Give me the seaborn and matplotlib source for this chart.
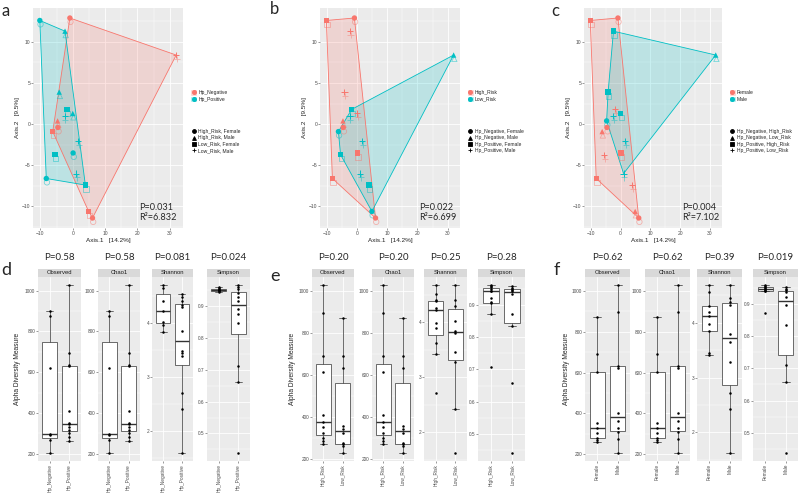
import numpy as np
import pandas as pd
import matplotlib
matplotlib.use("Agg")
import matplotlib.pyplot as plt
import matplotlib.transforms as mtransforms
from matplotlib.lines import Line2D
from matplotlib.patches import Patch, Rectangle
from matplotlib.ticker import MultipleLocator
import seaborn as sns

# ---------------- PCoA ordination (shared by panels a-c) ----------------
axis1 = [-10.2, -0.9, -2.4, 32.0, -4.2, -1.8, 0.0, -4.7, -4.6, -6.2,
         1.6, -5.5, 0.1, 1.0, -8.2, 3.9, 4.9, 6.1, -2.5]
axis2 = [12.6, 12.9, 11.3, 8.4, 3.9, 1.8, 1.3, 0.4, -0.4, -0.9,
         -2.0, -3.7, -3.5, -6.0, -6.6, -7.4, -10.6, -11.4, 1.0]
hp_status = ["Hp_Positive", "Hp_Negative", "Hp_Positive", "Hp_Negative", "Hp_Positive",
             "Hp_Positive", "Hp_Positive", "Hp_Negative", "Hp_Negative", "Hp_Negative",
             "Hp_Positive", "Hp_Positive", "Hp_Positive", "Hp_Positive", "Hp_Positive",
             "Hp_Positive", "Hp_Negative", "Hp_Negative", "Hp_Positive"]
risk_group = ["High_Risk", "High_Risk", "High_Risk", "Low_Risk", "High_Risk",
              "Low_Risk", "High_Risk", "High_Risk", "High_Risk", "Low_Risk",
              "Low_Risk", "Low_Risk", "High_Risk", "Low_Risk", "High_Risk",
              "Low_Risk", "Low_Risk", "High_Risk", "Low_Risk"]
sex_group = ["Female", "Female", "Male", "Male", "Male", "Female", "Male", "Male",
             "Female", "Female", "Male", "Female", "Female", "Male", "Female",
             "Female", "Female", "Female", "Male"]
axis1_label = "Axis.1   [14.2%]"
axis2_label = "Axis.2   [9.5%]"
pcoa_stats = ["P=0.031\nR\u00b2=6.832", "P=0.022\nR\u00b2=6.699", "P=0.004\nR\u00b2=7.102"]

# ---------------- Alpha diversity ----------------
measures = ["Observed", "Chao1", "Shannon", "Simpson"]

d_groups = ["Hp_Negative", "Hp_Positive"]
d_observed = [[900, 878, 618, 296, 290, 268, 205],
              [262, 282, 300, 318, 330, 345, 349, 411, 630, 634, 694, 1026]]
d_chao1 = [[900, 878, 618, 296, 290, 268, 205],
           [262, 282, 300, 318, 330, 345, 349, 411, 630, 634, 694, 1026]]
d_shannon = [[3.83, 3.97, 4.03, 4.22, 4.41, 4.66, 4.70],
             [1.60, 2.41, 2.71, 3.40, 3.45, 3.48, 3.85, 4.30, 4.34, 4.41, 4.49, 4.54]]
d_simpson = [[0.958, 0.955, 0.952, 0.950, 0.948, 0.945, 0.943],
             [0.44, 0.66, 0.71, 0.845, 0.875, 0.89, 0.915, 0.926, 0.94, 0.952, 0.958, 0.964]]
d_pvalues = ["P=0.58", "P=0.58", "P=0.081", "P=0.024"]

e_groups = ["High_Risk", "Low_Risk"]
e_observed = [[272, 284, 300, 324, 353, 376, 408, 613, 690, 896, 1028],
              [229, 260, 268, 275, 324, 340, 356, 631, 690, 872]]
e_chao1 = [[272, 284, 300, 324, 353, 376, 408, 613, 690, 896, 1028],
           [229, 260, 268, 275, 324, 340, 356, 631, 690, 872]]
e_shannon = [[2.72, 3.42, 3.63, 3.90, 3.98, 4.23, 4.25, 4.38, 4.40, 4.52, 4.67],
             [1.63, 2.42, 3.27, 3.46, 3.80, 3.84, 4.03, 4.30, 4.40, 4.67]]
e_simpson = [[0.709, 0.873, 0.905, 0.910, 0.921, 0.943, 0.945, 0.950, 0.955, 0.958, 0.961],
             [0.442, 0.658, 0.836, 0.873, 0.935, 0.945, 0.947, 0.950, 0.953, 0.958]]
e_pvalues = ["P=0.20", "P=0.20", "P=0.25", "P=0.28"]

f_groups = ["Female", "Male"]
f_observed = [[259, 268, 279, 305, 327, 355, 605, 692, 871],
              [208, 274, 310, 330, 365, 400, 624, 633, 898, 1027]]
f_chao1 = [[259, 268, 279, 305, 327, 355, 605, 692, 871],
           [208, 274, 310, 330, 365, 400, 624, 633, 898, 1027]]
f_shannon = [[3.41, 3.45, 3.84, 3.98, 4.12, 4.20, 4.30, 4.55, 4.68],
             [1.63, 2.42, 2.72, 3.28, 3.65, 3.80, 4.33, 4.38, 4.45, 4.68]]
f_simpson = [[0.871, 0.940, 0.942, 0.945, 0.948, 0.950, 0.953, 0.955, 0.958],
             [0.438, 0.659, 0.71, 0.835, 0.897, 0.921, 0.936, 0.943, 0.948, 0.953]]
f_pvalues = ["P=0.62", "P=0.62", "P=0.39", "P=0.019"]

# major tick step per measure
tick_steps = [200, 200, 1, 0.1]

# ---------------- style ----------------
sns.set_theme(style="darkgrid", rc={
    "axes.facecolor": "#EBEBEB", "grid.color": "white", "grid.linewidth": 0.6,
    "axes.edgecolor": "none", "xtick.color": "#4D4D4D", "ytick.color": "#4D4D4D",
    "xtick.major.size": 1.2, "ytick.major.size": 1.2,
    "xtick.major.width": 0.4, "ytick.major.width": 0.4,
    "xtick.major.pad": 0.8, "ytick.major.pad": 0.8,
    "xtick.bottom": True, "ytick.left": True,
})
plt.rcParams["font.family"] = ["Liberation Sans", "DejaVu Sans"]

W, H = 800, 497
fig = plt.figure(figsize=(W / 100, H / 100), dpi=100)
fig.patch.set_facecolor("white")


def rect(l, t, r, b):
    return [l / W, 1 - b / H, (r - l) / W, (b - t) / H]


PAL = ["#F8766D", "#00BFC4"]
SHAPES = ["o", "^", "s", "+"]

df = pd.DataFrame({"axis1": axis1, "axis2": axis2, "hp": hp_status,
                   "risk": risk_group, "sex": sex_group})
df["hp_sex"] = df["hp"] + ", " + df["sex"]
df["risk_sex"] = df["risk"] + ", " + df["sex"]
df["hp_risk"] = df["hp"] + ", " + df["risk"]


def convex_hull(points):
    pts = sorted(set(map(tuple, points)))

    def cross(o, a, b):
        return (a[0] - o[0]) * (b[1] - o[1]) - (a[1] - o[1]) * (b[0] - o[0])
    lower, upper = [], []
    for p in pts:
        while len(lower) >= 2 and cross(lower[-2], lower[-1], p) <= 0:
            lower.pop()
        lower.append(p)
    for p in reversed(pts):
        while len(upper) >= 2 and cross(upper[-2], upper[-1], p) <= 0:
            upper.pop()
        upper.append(p)
    return np.array(lower[:-1] + upper[:-1])


def draw_points(ax, filled, plus, color_col, palette, color_levels, markers, shape_levels,
                z, shadow):
    n0 = len(ax.collections)
    sns.scatterplot(data=filled, x="axis1", y="axis2", hue=color_col, palette=palette,
                    hue_order=color_levels, style=shape_col_holder[0],
                    markers={k: markers[k] for k in shape_levels[:3]},
                    s=15, linewidth=0, ax=ax, legend=False, zorder=z)
    sns.scatterplot(data=plus, x="axis1", y="axis2", hue=color_col, palette=palette,
                    hue_order=color_levels, marker="+", s=20, linewidth=0.7,
                    ax=ax, legend=False, zorder=z)
    if shadow:
        offset = mtransforms.ScaledTranslation(0.5 / 72, -2.8 / 72, fig.dpi_scale_trans)
        for c in ax.collections[n0:]:
            fc = np.array(c.get_facecolors())
            if len(fc):
                fc[:, 3] = 0.5
                c.set_edgecolors(fc)
                c.set_facecolors("none")
                c.set_linewidth(0.6)
            c.set_offset_transform(ax.transData + offset)


shape_col_holder = [None]


def pcoa_panel(r, color_col, color_levels, shape_col, shape_levels, stat):
    ax = fig.add_axes(r)
    shape_col_holder[0] = shape_col
    palette = dict(zip(color_levels, PAL))
    for lvl in color_levels:
        sub = df[df[color_col] == lvl]
        hull = convex_hull(sub[["axis1", "axis2"]].values)
        closed = np.vstack([hull, hull[:1]])
        ax.fill(closed[:, 0], closed[:, 1], color=palette[lvl], alpha=0.2, lw=0, zorder=2)
        ax.plot(closed[:, 0], closed[:, 1], color=palette[lvl], lw=0.6, zorder=3)
    markers = dict(zip(shape_levels, SHAPES))
    filled = df[df[shape_col] != shape_levels[3]]
    plus = df[df[shape_col] == shape_levels[3]]
    draw_points(ax, filled, plus, color_col, palette, color_levels, markers, shape_levels, 4, True)
    draw_points(ax, filled, plus, color_col, palette, color_levels, markers, shape_levels, 5, False)
    x0, x1 = min(axis1), max(axis1)
    y0, y1 = min(axis2), max(axis2)
    ax.set_xlim(x0 - 0.05 * (x1 - x0), x1 + 0.05 * (x1 - x0))
    ax.set_ylim(y0 - 0.05 * (y1 - y0), y1 + 0.05 * (y1 - y0))
    ax.xaxis.set_major_locator(MultipleLocator(10))
    ax.xaxis.set_minor_locator(MultipleLocator(5))
    ax.yaxis.set_major_locator(MultipleLocator(5))
    ax.yaxis.set_minor_locator(MultipleLocator(2.5))
    ax.grid(which="major", color="white", lw=0.6)
    ax.grid(which="minor", color="white", lw=0.3)
    ax.tick_params(which="minor", length=0)
    ax.tick_params(labelsize=3.6)
    ax.set_xlabel(axis1_label, fontsize=4.6, labelpad=1.5, color="#222222")
    ax.set_ylabel(axis2_label, fontsize=4.6, labelpad=1.5, color="#222222")
    ax.text(0.71, 0.025, stat, transform=ax.transAxes, ha="left", va="bottom",
            fontsize=6.6, family=["Lato", "DejaVu Sans"], linespacing=1.25, zorder=6)
    # legends
    ch = [(Patch(facecolor=palette[l], alpha=0.25, edgecolor=palette[l], lw=0.5),
           Line2D([], [], marker="o", color=palette[l], ls="", ms=2.6)) for l in color_levels]
    leg1 = ax.legend(ch, color_levels, loc="center left", bbox_to_anchor=(1.04, 0.6),
                     frameon=False, fontsize=3.6, handlelength=1.0, handleheight=1.0,
                     labelspacing=0.25, handletextpad=0.5, borderaxespad=0)
    ax.add_artist(leg1)
    sh = [Line2D([], [], marker=m, color="black", ls="", ms=2.8, mew=0.6)
          for m in SHAPES]
    ax.legend(sh, shape_levels, loc="center left", bbox_to_anchor=(1.04, 0.395),
              frameon=False, fontsize=3.6, handlelength=1.0, handleheight=1.0,
              labelspacing=0.25, handletextpad=0.5, borderaxespad=0)
    return ax


pcoa_panel(rect(33, 8, 183, 228), "hp", ["Hp_Negative", "Hp_Positive"], "risk_sex",
           ["High_Risk, Female", "High_Risk, Male", "Low_Risk, Female", "Low_Risk, Male"],
           pcoa_stats[0])
pcoa_panel(rect(320, 8, 460, 228), "risk", ["High_Risk", "Low_Risk"], "hp_sex",
           ["Hp_Negative, Female", "Hp_Negative, Male", "Hp_Positive, Female", "Hp_Positive, Male"],
           pcoa_stats[1])
pcoa_panel(rect(584, 8, 722, 228), "sex", ["Female", "Male"], "hp_risk",
           ["Hp_Negative, High_Risk", "Hp_Negative, Low_Risk", "Hp_Positive, High_Risk",
            "Hp_Positive, Low_Risk"],
           pcoa_stats[2])

letter_font = ["Lato", "DejaVu Sans"]
fig.text(2 / W, 1 - 3 / H, "a", fontsize=12, va="top", ha="left", family=letter_font)
fig.text(270 / W, 1 - 1 / H, "b", fontsize=12, va="top", ha="left", family=letter_font)
fig.text(551 / W, 1 - 3 / H, "c", fontsize=12, va="top", ha="left", family=letter_font)


def alpha_panel(xspans, groups, data_lists, pvals, ylabel_x):
    for span, meas, vals, p, step in zip(xspans, measures, data_lists, pvals, tick_steps):
        ax = fig.add_axes(rect(span[0], 277, span[1], 461))
        long = pd.DataFrame({"group": np.repeat(groups, [len(v) for v in vals]),
                             "value": np.concatenate([np.asarray(v, float) for v in vals])})
        sns.boxplot(data=long, x="group", y="value", order=groups, color="white",
                    linecolor="#333333", linewidth=0.5, width=0.75, fliersize=0,
                    medianprops={"linewidth": 1.0, "color": "#333333"},
                    saturation=1, ax=ax)
        sns.stripplot(data=long, x="group", y="value", order=groups, color="black",
                      size=1.8, jitter=False, ax=ax, zorder=5)
        lo, hi = long["value"].min(), long["value"].max()
        ax.set_ylim(lo - 0.05 * (hi - lo), hi + 0.05 * (hi - lo))
        ax.set_xlim(-0.6, 1.6)
        ax.set_xlabel("")
        ax.set_ylabel("")
        ax.yaxis.set_major_locator(MultipleLocator(step))
        ax.yaxis.set_minor_locator(MultipleLocator(step / 2))
        ax.grid(which="major", color="white", lw=0.6)
        ax.grid(which="minor", axis="y", color="white", lw=0.3)
        ax.tick_params(which="minor", length=0)
        ax.tick_params(axis="y", labelsize=3.4)
        ax.tick_params(axis="x", labelsize=3.4, rotation=90)
        ax.set_axisbelow(True)
        ax.add_patch(Rectangle((0, 1), 1, 8 / 184, transform=ax.transAxes,
                               facecolor="#D9D9D9", edgecolor="none", clip_on=False))
        ax.text(0.5, 1 + 4 / 184, meas, transform=ax.transAxes, ha="center", va="center",
                fontsize=4.2, color="#1A1A1A")
        ax.text(0.5, 1 + 20 / 184, p, transform=ax.transAxes, ha="center", va="center",
                fontsize=7, family=["Lato", "DejaVu Sans"])
    fig.text(ylabel_x / W, 1 - 369 / H, "Alpha Diversity Measure", rotation=90,
             ha="center", va="center", fontsize=4.8, color="#222222")


alpha_panel([(38, 81), (98, 140), (152, 193), (207, 250)], d_groups,
            [d_observed, d_chao1, d_shannon, d_simpson], d_pvalues, 18)
alpha_panel([(312, 354), (372, 414), (424, 467), (478, 525)], e_groups,
            [e_observed, e_chao1, e_shannon, e_simpson], e_pvalues, 293)
alpha_panel([(585, 630), (645, 690), (697, 742), (753, 798)], f_groups,
            [f_observed, f_chao1, f_shannon, f_simpson], f_pvalues, 567)

fig.text(1 / W, 1 - 262 / H, "d", fontsize=13, va="top", ha="left", family=letter_font)
fig.text(270 / W, 1 - 268 / H, "e", fontsize=13, va="top", ha="left", family=letter_font)
fig.text(554 / W, 1 - 262 / H, "f", fontsize=13, va="top", ha="left", family=letter_font)

fig.savefig("out.png", dpi=100, facecolor="white")
